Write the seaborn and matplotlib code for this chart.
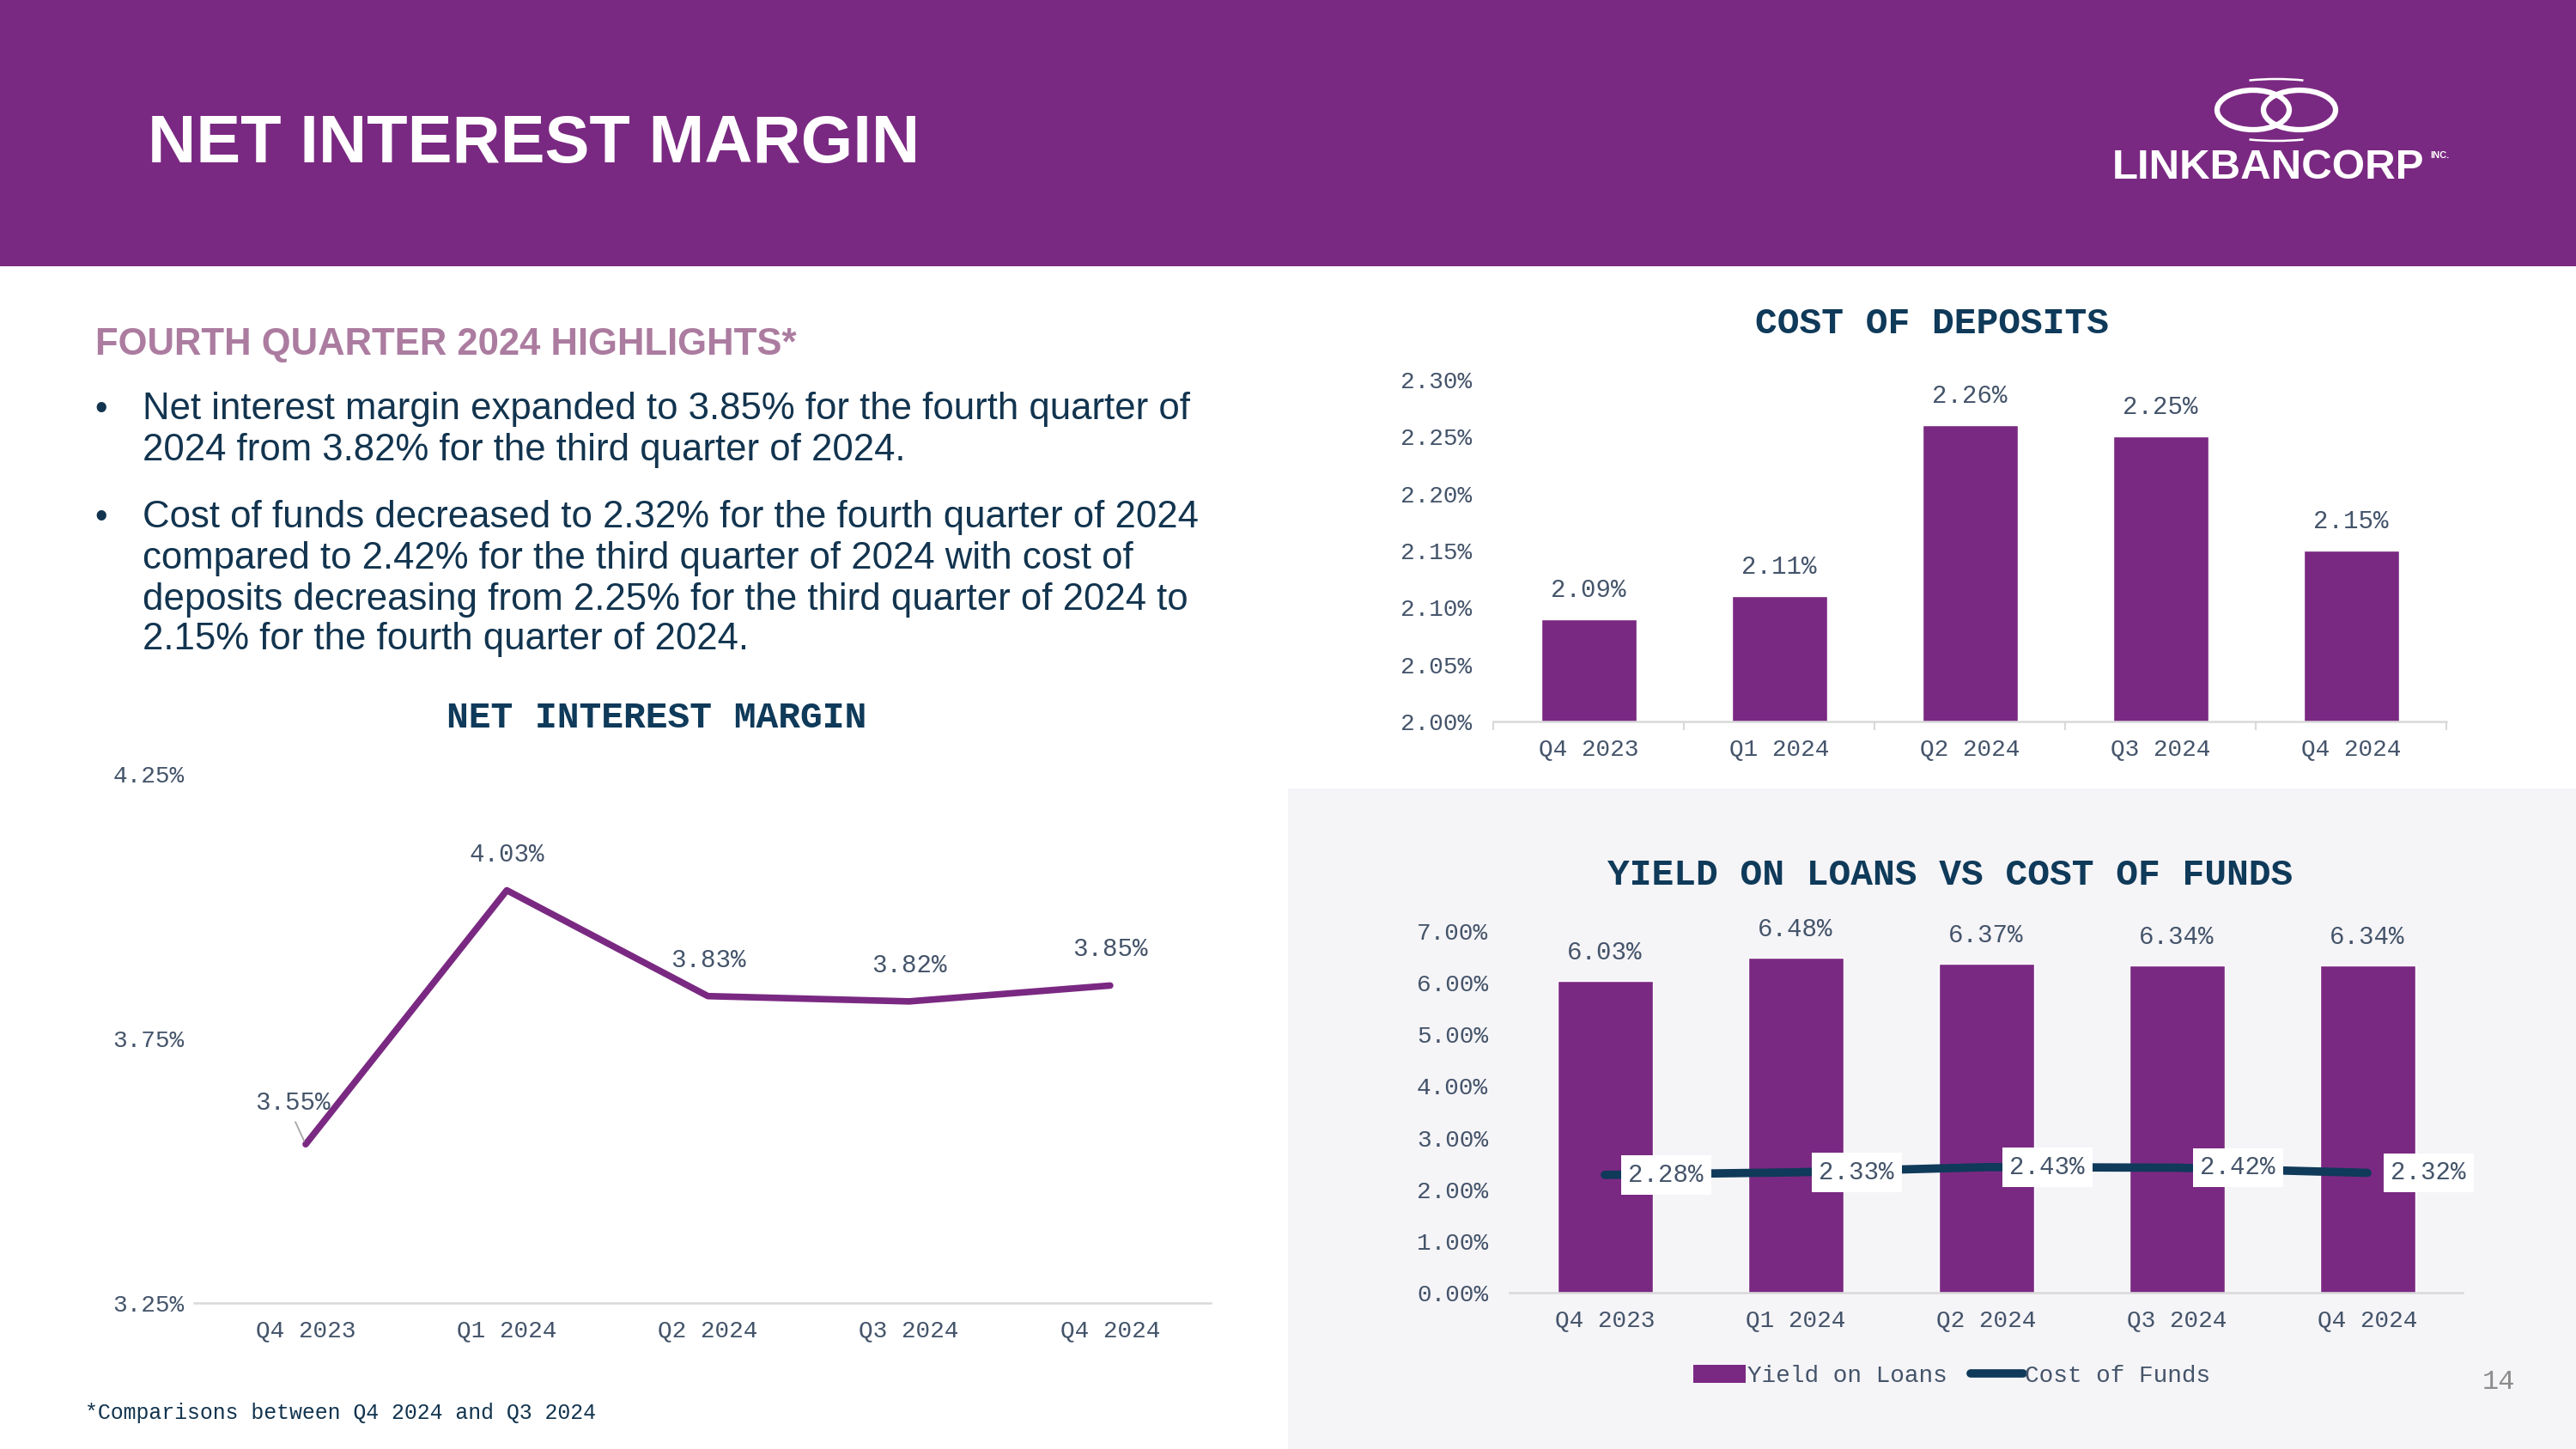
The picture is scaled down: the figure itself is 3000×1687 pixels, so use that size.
import numpy as np
import pandas as pd
import matplotlib
matplotlib.use("Agg")
import matplotlib.pyplot as plt
import seaborn as sns
from matplotlib.patches import Rectangle, Ellipse, Arc, Patch
from matplotlib.lines import Line2D
from matplotlib.ticker import FuncFormatter

# ---------------------------------------------
# DATA
# ---------------------------------------------
quarters = ["Q4 2023", "Q1 2024", "Q2 2024", "Q3 2024", "Q4 2024"]
nim = [3.55, 4.03, 3.83, 3.82, 3.85]
cost_of_deposits = [2.09, 2.11, 2.26, 2.25, 2.15]
yield_on_loans = [6.03, 6.48, 6.37, 6.34, 6.34]
cost_of_funds = [2.28, 2.33, 2.43, 2.42, 2.32]

nim_ticks = [3.25, 3.75, 4.25]
cod_ticks = [2.00, 2.05, 2.10, 2.15, 2.20, 2.25, 2.30]
yol_ticks = [0, 1, 2, 3, 4, 5, 6, 7]

bullets = [
    ["Net interest margin expanded to 3.85% for the fourth quarter of",
     "2024 from 3.82% for the third quarter of 2024."],
    ["Cost of funds decreased to 2.32% for the fourth quarter of 2024",
     "compared to 2.42% for the third quarter of 2024 with cost of",
     "deposits decreasing from 2.25% for the third quarter of 2024 to",
     "2.15% for the fourth quarter of 2024."],
]

# ---------------------------------------------
# STYLE
# ---------------------------------------------
PURPLE = "#7A2982"
NAVY = "#0F3A5A"
TEXT = "#12344F"
TICK = "#44546A"
MAUVE = "#AC7CA0"
AXLINE = "#D9D9D9"
PANEL = "#F5F4F7"
MONO = "Liberation Mono"
SANS = "Liberation Sans"

sns.set_theme(style="white")
plt.rcParams["font.family"] = [SANS, "DejaVu Sans"]

W, H = 3000, 1687
fig = plt.figure(figsize=(30, 16.87), dpi=100)
fig.patch.set_facecolor("white")


def rect(l, t, r, b):
    return [l / W, 1 - b / H, (r - l) / W, (b - t) / H]


pct = FuncFormatter(lambda v, p: f"{v:.2f}%")

# ---------------------------------------------
# BACKGROUND / HEADER
# ---------------------------------------------
bg = fig.add_axes([0, 0, 1, 1])
bg.set_xlim(0, W)
bg.set_ylim(H, 0)
bg.axis("off")
bg.add_patch(Rectangle((0, 0), W, 310, color=PURPLE, lw=0))
bg.add_patch(Rectangle((1500, 918), W - 1500, H - 918, color=PANEL, lw=0))

bg.text(172, 189, "NET INTEREST MARGIN", color="white", fontsize=56,
        fontweight="bold", family=SANS, ha="left", va="baseline")

# logo
for cx in (2624, 2678):
    bg.add_patch(Ellipse((cx, 128), 84, 46, fill=False, ec="white", lw=4.5))
bg.add_patch(Arc((2651, 136), 190, 56, theta1=40, theta2=140, ec="white", lw=1.8))
bg.add_patch(Arc((2651, 120), 190, 56, theta1=220, theta2=320, ec="white", lw=1.8))
bg.text(2460, 208, "LINKBANCORP", color="white", fontsize=35.5,
        fontweight="bold", family=SANS, ha="left", va="baseline")
bg.text(2830, 184, "INC.", color="white", fontsize=8,
        fontweight="bold", family=SANS, ha="left", va="baseline")

# highlights text
bg.text(111, 413, "FOURTH QUARTER 2024 HIGHLIGHTS*", color=MAUVE, fontsize=31.4,
        fontweight="bold", family=SANS, ha="left", va="baseline")
baselines = [[488, 536], [614, 662, 710, 756]]
for lines, ys in zip(bullets, baselines):
    bg.text(110, ys[0], "\u2022", color=TEXT, fontsize=30, family=SANS,
            ha="left", va="baseline")
    for line, y in zip(lines, ys):
        bg.text(166, y, line, color=TEXT, fontsize=31.5, family=SANS,
                ha="left", va="baseline")

bg.text(99, 1645, "*Comparisons between Q4 2024 and Q3 2024", color=TEXT,
        fontsize=17.9, family=MONO, ha="left", va="center")
bg.text(2910, 1609, "14", color="#8C8C8C", fontsize=23, family=MONO,
        ha="center", va="center")

# chart titles
bg.text(765, 836, "NET INTEREST MARGIN", color=NAVY, fontsize=31,
        fontweight="bold", family=MONO, ha="center", va="center")
bg.text(2250, 377, "COST OF DEPOSITS", color=NAVY, fontsize=31,
        fontweight="bold", family=MONO, ha="center", va="center")
bg.text(2271, 1019, "YIELD ON LOANS VS COST OF FUNDS", color=NAVY, fontsize=31,
        fontweight="bold", family=MONO, ha="center", va="center")


def style_axis(ax, ypad):
    ax.set_facecolor("none")
    for s in ["top", "right", "left"]:
        ax.spines[s].set_visible(False)
    ax.spines["bottom"].set_color(AXLINE)
    ax.spines["bottom"].set_linewidth(1.8)
    ax.set_xlabel("")
    ax.set_ylabel("")
    ax.yaxis.set_major_formatter(pct)
    ax.tick_params(axis="y", length=0, pad=ypad, labelsize=20, labelcolor=TICK)
    ax.tick_params(axis="x", length=0, pad=14, labelsize=20, labelcolor=TICK)
    for lab in ax.get_xticklabels() + ax.get_yticklabels():
        lab.set_family(MONO)
    ax.set_xlim(-0.5, 4.5)


# ---------------------------------------------
# NET INTEREST MARGIN (line)
# ---------------------------------------------
ax1 = fig.add_axes(rect(226, 901, 1410, 1517))
sns.lineplot(x=quarters, y=nim, ax=ax1, color=PURPLE, linewidth=5.5,
             sort=False, solid_joinstyle="round")
ax1.set_ylim(3.25, 4.25)
ax1.set_yticks(nim_ticks)
style_axis(ax1, 8)
ax1.set_xlim(-0.555, 4.5)
for i, v in enumerate(nim):
    if i == 0:
        ax1.annotate(f"{v:.2f}%", (i, v), xytext=(-15, 48),
                     textcoords="offset pixels", ha="center", va="center",
                     fontsize=21, family=MONO, color=TICK)
        # leader line from label to point
        ax1.annotate("", (i, v), xytext=(-12, 26), textcoords="offset pixels",
                     arrowprops=dict(arrowstyle="-", color="#A6A6A6", lw=1.3,
                                     shrinkA=0, shrinkB=3))
    else:
        ax1.annotate(f"{v:.2f}%", (i, v), xytext=(0, 42),
                     textcoords="offset pixels", ha="center", va="center",
                     fontsize=21, family=MONO, color=TICK)

# ---------------------------------------------
# COST OF DEPOSITS (bars)
# ---------------------------------------------
ax2 = fig.add_axes(rect(1739, 442, 2849, 840))
sns.barplot(x=quarters, y=cost_of_deposits, ax=ax2, color=PURPLE,
            saturation=1, width=0.5)
ax2.set_ylim(2.0, 2.3)
ax2.set_yticks(cod_ticks)
style_axis(ax2, 18)
ax2.set_xticks(np.arange(-0.5, 5.0, 1.0), minor=True)
ax2.tick_params(axis="x", which="minor", length=7, width=1.5, color=AXLINE,
                direction="out", bottom=True)
for i, v in enumerate(cost_of_deposits):
    ax2.annotate(f"{v:.2f}%", (i, v), xytext=(0, 34),
                 textcoords="offset pixels", ha="center", va="center",
                 fontsize=21, family=MONO, color=TICK)

# ---------------------------------------------
# YIELD ON LOANS VS COST OF FUNDS
# ---------------------------------------------
ax3 = fig.add_axes(rect(1758, 1084, 2868, 1505))
sns.barplot(x=quarters, y=yield_on_loans, ax=ax3, color=PURPLE,
            saturation=1, width=0.5)
sns.lineplot(x=quarters, y=cost_of_funds, ax=ax3, color=NAVY, linewidth=7,
             sort=False, solid_capstyle="round")
ax3.set_ylim(0, 7)
ax3.set_yticks(yol_ticks)
style_axis(ax3, 18)
for i, v in enumerate(yield_on_loans):
    ax3.annotate(f"{v:.2f}%", (i, v), xytext=(0, 33),
                 textcoords="offset pixels", ha="center", va="center",
                 fontsize=21, family=MONO, color=TICK)
for i, v in enumerate(cost_of_funds):
    ax3.annotate(f"{v:.2f}%", (i, v), xytext=(71, 0),
                 textcoords="offset pixels", ha="center", va="center",
                 fontsize=21, family=MONO, color=TICK,
                 bbox=dict(boxstyle="square,pad=0.3", fc="white", ec="none"))

handles = [Patch(facecolor=PURPLE, edgecolor="none", label="Yield on Loans"),
           Line2D([0], [0], color=NAVY, lw=7, solid_capstyle="round",
                  label="Cost of Funds")]
leg = ax3.legend(handles=handles, loc="center", ncol=2, frameon=False,
                 bbox_to_anchor=(2273 / W, 1 - 1602 / H),
                 bbox_transform=fig.transFigure,
                 prop={"family": MONO, "size": 20}, handlelength=2.2,
                 handleheight=0.8, handletextpad=0.05, columnspacing=1.0)
for t in leg.get_texts():
    t.set_color(TICK)

fig.savefig("out.png", dpi=100)
